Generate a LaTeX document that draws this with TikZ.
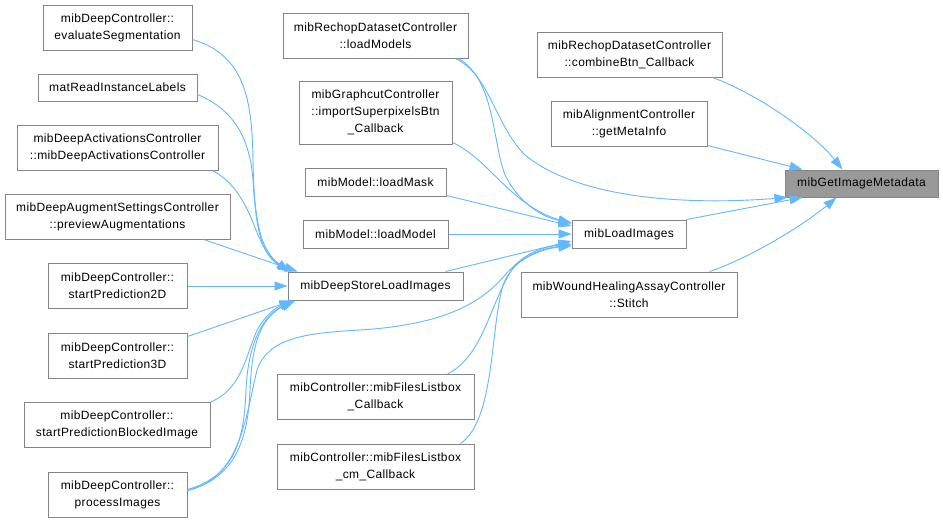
\documentclass[tikz,border=0pt]{standalone}
\usepackage{fontspec}
\newfontfamily\dfont[LetterSpace=3]{Liberation Sans}
\usetikzlibrary{arrows.meta,calc}
\definecolor{edgeblue}{HTML}{63B8FF}
\definecolor{boxgray}{HTML}{858585}
\definecolor{hlfill}{HTML}{999999}
\tikzset{
  box/.style={draw=boxgray, fill=white, line width=1pt, inner sep=0pt, align=center,
    font={\dfont\fontsize{12}{16.8}\selectfont}},
  hl/.style={box, fill=hlfill},
  edge/.style={draw=edgeblue, line width=0.9pt, -{Triangle[length=13pt,width=9pt]}}
}
\begin{document}
\begin{tikzpicture}[x=1pt,y=-1pt]
\path[use as bounding box, fill=white] (0,0) rectangle (943,522);
% left column
\node[box, minimum width=149, minimum height=45] (es) at (117.5,27.5) {mibDeepController::\\evaluateSegmentation};
\node[box, minimum width=159, minimum height=27] (mr) at (117.5,87.5) {matReadInstanceLabels};
\node[box, minimum width=201, minimum height=45] (ac) at (117.5,147.5) {mibDeepActivationsController\\::mibDeepActivationsController};
\node[box, minimum width=225, minimum height=45] (au) at (117.5,216.5) {mibDeepAugmentSettingsController\\::previewAugmentations};
\node[box, minimum width=139, minimum height=45] (s2) at (117.5,286) {mibDeepController::\\startPrediction2D};
\node[box, minimum width=139, minimum height=45] (s3) at (117.5,355.5) {mibDeepController::\\startPrediction3D};
\node[box, minimum width=186, minimum height=45] (sb) at (117,425) {mibDeepController::\\startPredictionBlockedImage};
\node[box, minimum width=139, minimum height=45] (pi) at (117.5,494.5) {mibDeepController::\\processImages};
% middle column
\node[box, minimum width=185, minimum height=45] (lm) at (375.5,35.5) {mibRechopDatasetController\\::loadModels};
\node[box, minimum width=153, minimum height=63] (gc) at (375.5,112.5) {mibGraphcutController\\::importSuperpixelsBtn\\\_Callback};
\node[box, minimum width=141, minimum height=28] (lk) at (375.5,182) {mibModel::loadMask};
\node[box, minimum width=145, minimum height=28] (ld) at (375.5,234) {mibModel::loadModel};
\node[box, minimum width=175, minimum height=28] (ds) at (375.5,286) {mibDeepStoreLoadImages};
\node[box, minimum width=197, minimum height=45] (fc) at (375.5,397) {mibController::mibFilesListbox\\\_Callback};
\node[box, minimum width=197, minimum height=45] (fm) at (375.5,466.5) {mibController::mibFilesListbox\\\_cm\_Callback};
% right columns
\node[box, minimum width=114, minimum height=28] (li) at (629,234) {mibLoadImages};
\node[box, minimum width=185, minimum height=45] (cb) at (629.5,54.5) {mibRechopDatasetController\\::combineBtn\_Callback};
\node[box, minimum width=156, minimum height=45] (gm) at (629,123.5) {mibAlignmentController\\::getMetaInfo};
\node[box, minimum width=216, minimum height=45] (st) at (629,294.5) {mibWoundHealingAssayController\\::Stitch};
\node[hl, minimum width=153, minimum height=27] (gim) at (861.5,183.5) {mibGetImageMetadata};
% edges to mibGetImageMetadata
\draw[edge] ($(cb.south east)+(-10,0)$) .. controls (760,95) and (815,135) .. ($(gim.north west)+(58,0)$);
\draw[edge] ($(gm.south east)+(0,-1)$) -- ($(gim.north west)+(18,0)$);
\draw[edge] ($(lm.south east)+(-13,0)$) .. controls (490,75) and (495,125) .. (525,155) .. controls (580,200) and (690,205) .. ($(gim.south west)+(3,0)$);
\draw[edge] (li.north east) -- ($(gim.south west)+(18,0)$);
\draw[edge] ($(st.north east)+(-28,0)$) .. controls (745,260) and (800,228) .. ($(gim.south west)+(52,0)$);
% edges to mibLoadImages
\draw[edge] ($(lm.south east)+(-10,0)$) .. controls (495,80) and (492,140) .. (505,175) .. controls (520,205) and (545,218) .. ($(li.north west)+(0,3)$);
\draw[edge] ($(gc.south east)+(0,-2)$) .. controls (490,160) and (510,205) .. ($(li.north west)+(0,4)$);
\draw[edge] ($(lk.south east)+(0,-1)$) -- ($(li.west)+(0,-8)$);
\draw[edge] (ld.east) -- (li.west);
\draw[edge] ($(ds.north east)+(-18,0)$) -- ($(li.west)+(0,7)$);
\draw[edge] ($(fc.north east)+(-27,0)$) .. controls (485,355) and (490,300) .. (515,265) .. controls (530,250) and (550,246) .. ($(li.west)+(0,10)$);
\draw[edge] ($(fm.north east)+(-14,0)$) .. controls (495,420) and (490,330) .. (503,285) .. controls (515,255) and (545,248) .. ($(li.west)+(0,11)$);
\draw[edge] ($(pi.east)+(0,-4)$) .. controls (240,478) and (245,420) .. (257,370) .. controls (268,338) and (305,333) .. (360,330) .. controls (440,325) and (480,305) .. (505,275) .. controls (522,255) and (548,248) .. ($(li.west)+(0,12)$);
% edges to mibDeepStoreLoadImages
\draw[edge] ($(es.east)+(0,12)$) .. controls (245,55) and (252,100) .. (253,160) .. controls (254,220) and (260,250) .. ($(ds.north west)+(2,0)$);
\draw[edge] ($(mr.east)+(0,7)$) .. controls (235,110) and (250,140) .. (253,180) .. controls (256,232) and (262,255) .. ($(ds.north west)+(3,0)$);
\draw[edge] ($(ac.south east)+(-6,0)$) .. controls (240,185) and (250,215) .. (258,235) .. controls (265,252) and (275,263) .. ($(ds.north west)+(4,0)$);
\draw[edge] ($(au.south east)+(-27,0)$) -- ($(ds.north west)+(10,0)$);
\draw[edge] (s2.east) -- (ds.west);
\draw[edge] ($(s3.north east)+(0,4)$) -- ($(ds.south west)+(5,0)$);
\draw[edge] (sb.north east) .. controls (240,390) and (245,360) .. (255,335) .. controls (262,318) and (275,308) .. ($(ds.south west)+(5,0)$);
\draw[edge] ($(pi.east)+(0,-4)$) .. controls (235,478) and (248,440) .. (250,390) .. controls (252,340) and (262,318) .. ($(ds.south west)+(6,0)$);
\draw[edge] ($(pi.east)+(0,-5)$) .. controls (238,475) and (244,435) .. (246,390) .. controls (248,345) and (262,315) .. ($(ds.south west)+(8,0)$);
\end{tikzpicture}
\end{document}
